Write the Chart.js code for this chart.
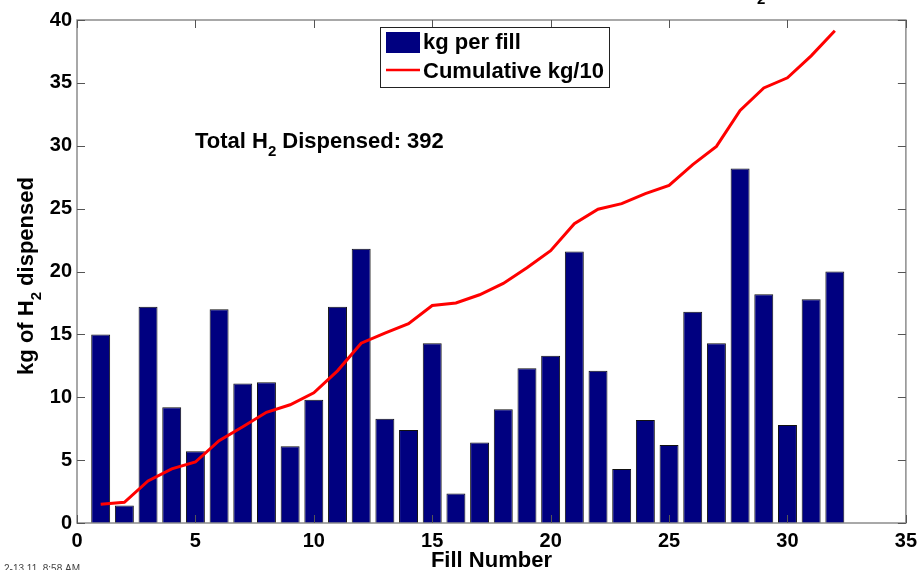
<!DOCTYPE html>
<html><head><meta charset="utf-8">
<script src="https://cdn.jsdelivr.net/npm/chart.js@4.4.0/dist/chart.umd.min.js"></script>
<style>html,body{margin:0;padding:0;background:#fff;}#wrap{width:923px;height:570px;position:relative;}</style>
</head><body><div id="wrap"><canvas id="c" width="923" height="570"></canvas></div>
<script>
const fillNumbers = [1,2,3,4,5,6,7,8,9,10,11,12,13,14,15,16,17,18,19,20,21,22,23,24,25,26,27,28,29,30,31,32];
const kgPerFill = [15.0,1.4,17.2,9.2,5.7,17.0,11.1,11.2,6.1,9.8,17.2,21.8,8.3,7.4,14.3,2.35,6.4,9.05,12.3,13.3,21.6,12.1,4.3,8.2,6.2,16.8,14.3,28.2,18.2,7.8,17.8,20.0];
const cumulativeKg10 = [1.5,1.65,3.35,4.3,4.85,6.55,7.65,8.8,9.4,10.35,12.1,14.3,15.1,15.85,17.3,17.5,18.15,19.05,20.3,21.65,23.8,24.95,25.4,26.2,26.85,28.5,29.95,32.8,34.6,35.4,37.15,39.15];
const xTicks = [0,5,10,15,20,25,30,35];
const yTicks = [0,5,10,15,20,25,30,35,40];
const seriesLabels = ['kg per fill','Cumulative kg/10'];
const totalDispensed = 392;
const xTitle = 'Fill Number';
const yTitleParts = [['kg of H',false],['2',true],[' dispensed',false]];
const noteParts = [['Total H',false],['2',true],[' Dispensed: ' + totalDispensed,false]];
const timestamp = '2-13.11, 8:58 AM';

const FONT = '"Liberation Sans", Arial, sans-serif';
const NAVY = '#000080';
const RED = '#ff0000';

function drawParts(ctx, parts, x, y, size, align) {
  const subSize = Math.round(size * 0.7);
  let widths = parts.map(p => { ctx.font = 'bold ' + (p[1] ? subSize : size) + 'px ' + FONT; return ctx.measureText(p[0]).width; });
  const total = widths.reduce((a,b)=>a+b,0);
  let cx = align === 'center' ? x - total/2 : x;
  ctx.textAlign = 'left'; ctx.textBaseline = 'alphabetic';
  parts.forEach((p,i) => {
    ctx.font = 'bold ' + (p[1] ? subSize : size) + 'px ' + FONT;
    ctx.fillText(p[0], cx, p[1] ? y + 8 : y);
    cx += widths[i];
  });
}

const decor = {
  id: 'decor',
  afterDatasetsDraw(chart) {
    const {ctx, chartArea: a, scales} = chart;
    const xs = scales.x, ys = scales.y;
    ctx.save();
    ctx.strokeStyle = '#8c8c8c'; ctx.lineWidth = 1.5;
    ctx.strokeRect(a.left, a.top, a.right - a.left, a.bottom - a.top);
    ctx.strokeStyle = '#555'; ctx.lineWidth = 1;
    const L = 8;
    xTicks.forEach(v => {
      const px = Math.round(xs.getPixelForValue(v)) + 0.5;
      ctx.beginPath(); ctx.moveTo(px, a.bottom); ctx.lineTo(px, a.bottom - L);
      ctx.moveTo(px, a.top); ctx.lineTo(px, a.top + L); ctx.stroke();
    });
    yTicks.forEach(v => {
      const py = Math.round(ys.getPixelForValue(v)) + 0.5;
      ctx.beginPath(); ctx.moveTo(a.left, py); ctx.lineTo(a.left + L, py);
      ctx.moveTo(a.right, py); ctx.lineTo(a.right - L, py); ctx.stroke();
    });
    // legend
    const barDs = chart.data.datasets.find(d => d.type === 'bar');
    const lineDs = chart.data.datasets.find(d => d.type === 'line');
    const lx = 380, ly = 27, lw = 229, lh = 60;
    ctx.fillStyle = '#fff'; ctx.fillRect(lx, ly, lw, lh);
    ctx.strokeStyle = '#222'; ctx.lineWidth = 1;
    ctx.strokeRect(lx + 0.5, ly + 0.5, lw, lh);
    ctx.fillStyle = barDs.backgroundColor; ctx.fillRect(386, 32, 34, 21);
    ctx.strokeStyle = lineDs.borderColor; ctx.lineWidth = 2.5;
    ctx.beginPath(); ctx.moveTo(386, 70); ctx.lineTo(420, 70); ctx.stroke();
    ctx.fillStyle = '#000'; ctx.font = 'bold 22px ' + FONT; ctx.textAlign = 'left'; ctx.textBaseline = 'alphabetic';
    ctx.fillText(barDs.label, 423, 49);
    ctx.fillText(lineDs.label, 423, 78);
    // annotation
    drawParts(ctx, noteParts, 195, 148, 22, 'left');
    // x title
    ctx.fillStyle = '#000'; ctx.font = 'bold 22px ' + FONT; ctx.textAlign = 'center';
    ctx.fillText(xTitle, (a.left + a.right)/2, 567);
    // y title
    ctx.save(); ctx.translate(33, 276); ctx.rotate(-Math.PI/2);
    drawParts(ctx, yTitleParts, 0, 0, 22, 'center');
    ctx.restore();
    // clipped fragments at the edges
    ctx.fillStyle = '#000'; drawParts(ctx, [['2',true]], 757, -4, 22, 'left');
    ctx.fillStyle = '#444'; ctx.font = '10px ' + FONT; ctx.textAlign = 'right';
    ctx.fillText(timestamp, 80, 572);
    ctx.restore();
  }
};

new Chart(document.getElementById('c'), {
  type: 'bar',
  data: {
    datasets: [
      { type: 'line', label: seriesLabels[1], data: fillNumbers.map((f,i)=>({x:f, y:cumulativeKg10[i]})),
        borderColor: RED, backgroundColor: RED, borderWidth: 3, pointRadius: 0, tension: 0, order: 0 },
      { type: 'bar', label: seriesLabels[0], data: fillNumbers.map((f,i)=>({x:f, y:kgPerFill[i]})),
        backgroundColor: NAVY, borderColor: '#111', borderWidth: 1, barPercentage: 0.8, categoryPercentage: 1, order: 1 }
    ]
  },
  options: {
    responsive: false, animation: false, devicePixelRatio: 1,
    layout: { padding: { top: 20, right: 12, left: 0, bottom: 0 } },
    plugins: { legend: { display: false }, tooltip: { enabled: false } },
    scales: {
      x: { type: 'linear', min: 0, max: 35, offset: false,
        afterBuildTicks: s => { s.ticks = xTicks.map(v => ({value: v})); },
        afterFit: s => { s.height = 47; },
        grid: { display: false, drawTicks: false }, border: { display: false },
        ticks: { color: '#000', font: { family: FONT, size: 20, weight: 'bold' }, padding: 6, maxRotation: 0 } },
      y: { min: 0, max: 40,
        afterBuildTicks: s => { s.ticks = yTicks.map(v => ({value: v})); },
        afterFit: s => { s.width = 77; },
        grid: { display: false, drawTicks: false }, border: { display: false },
        ticks: { color: '#000', font: { family: FONT, size: 20, weight: 'bold' }, padding: 5 } }
    }
  },
  plugins: [decor]
});
</script></body></html>
